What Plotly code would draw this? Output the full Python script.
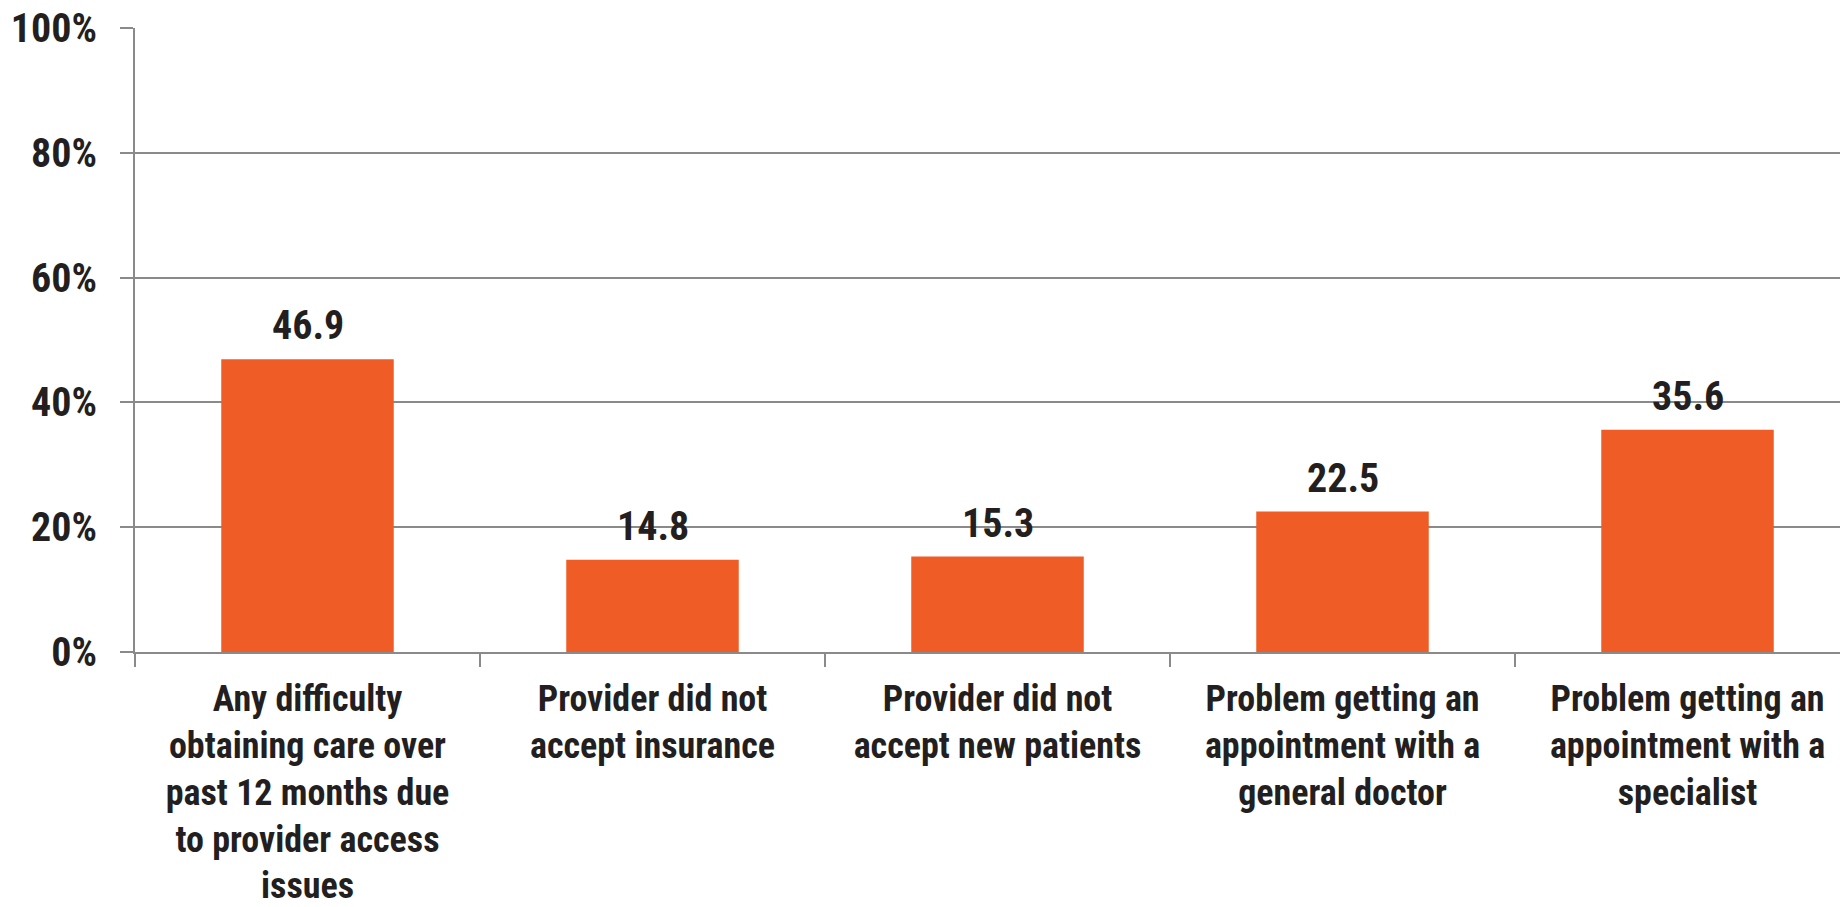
import plotly.graph_objects as go

categories = [
    "Any difficulty<br>obtaining care over<br>past 12 months due<br>to provider access<br>issues",
    "Provider did not<br>accept insurance",
    "Provider did not<br>accept new patients",
    "Problem getting an<br>appointment with a<br>general doctor",
    "Problem getting an<br>appointment with a<br>specialist",
]
values = [46.9, 14.8, 15.3, 22.5, 35.6]
y_ticks = [0, 20, 40, 60, 80, 100]
y_tick_labels = ["0%", "20%", "40%", "60%", "80%", "100%"]

FONT = "Roboto Condensed, Liberation Sans Narrow, Arial Narrow, sans-serif"
BAR = "#F05C25"
GRID = "#8A8A8A"
TEXT = "#231F20"

fig = go.Figure(
    go.Bar(
        x=categories,
        y=values,
        width=0.5,
        marker=dict(color=BAR, line=dict(width=0)),
        hoverinfo="skip",
    )
)

# value labels above each bar
for cat, v in zip(categories, values):
    fig.add_annotation(
        x=cat, y=v, text=f"{v:.1f}", showarrow=False,
        yanchor="bottom", yshift=8,
        font=dict(family=FONT, size=40, color=TEXT, weight="bold"),
    )

fig.update_layout(
    width=1840, height=907,
    margin=dict(l=135, r=0, t=28, b=255),
    paper_bgcolor="white", plot_bgcolor="white",
    showlegend=False,
)

fig.update_xaxes(
    type="category",
    range=[-0.5, 4.442],
    tickson="boundaries",
    ticks="outside", ticklen=13, tickwidth=2, tickcolor=GRID,
    showline=True, linecolor=GRID, linewidth=2,
    showgrid=False, zeroline=False,
    tickfont=dict(family=FONT, size=36, color=TEXT, weight="bold"),
    ticklabelstandoff=14,
    ticklabeloverflow="allow",
    tickangle=0,
    automargin=False,
)

fig.update_yaxes(
    range=[0, 100],
    tickmode="array",
    tickvals=y_ticks,
    ticktext=y_tick_labels,
    ticks="outside", ticklen=13, tickwidth=2, tickcolor=GRID,
    showline=True, linecolor=GRID, linewidth=2,
    showgrid=True, gridcolor=GRID, gridwidth=2,
    zeroline=False,
    tickfont=dict(family=FONT, size=40, color=TEXT, weight="bold"),
    ticklabelstandoff=15,
    automargin=False,
)

fig.write_html("out.html")
